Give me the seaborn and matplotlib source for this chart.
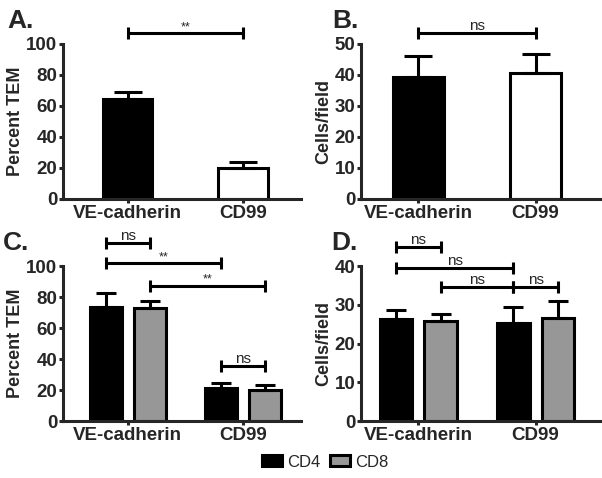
import pandas as pd
import seaborn as sns
import matplotlib.pyplot as plt
from matplotlib.patches import Patch
from matplotlib.container import BarContainer

targets = ["VE-cadherin", "CD99"]
subsets = ["CD4", "CD8"]

# A. percent TEM, all T cells
tem_mean = [64.5, 19.8]
tem_err = [4.2, 3.9]
# B. cells per field, all T cells
field_mean = [39.3, 40.5]
field_err = [6.8, 6.3]
# C. percent TEM by subset
tem_cd4 = [73.7, 21.5]
tem_cd4_err = [8.7, 3.2]
tem_cd8 = [73.1, 20.0]
tem_cd8_err = [4.3, 3.2]
# D. cells per field by subset
field_cd4 = [26.3, 25.2]
field_cd4_err = [2.3, 4.1]
field_cd8 = [25.8, 26.5]
field_cd8_err = [1.8, 4.5]

LW = 2.2
GRAY = "#979797"

sns.set_style("ticks")
plt.rcParams["font.family"] = ["Liberation Sans", "DejaVu Sans"]
plt.rcParams["font.weight"] = "bold"
plt.rcParams["axes.labelweight"] = "bold"


def style_axis(ax, ymax, step, ylabel):
    ax.set_ylim(0, ymax)
    ax.set_yticks(range(0, ymax + 1, step))
    ax.set_ylabel(ylabel, fontsize=13, labelpad=2)
    ax.set_xlabel("")
    for s in ["left", "bottom"]:
        ax.spines[s].set_linewidth(LW)
    sns.despine(ax=ax)
    ax.tick_params(width=LW, length=3, pad=1, labelsize=13.5)


def bars(ax):
    return [c for c in ax.containers if isinstance(c, BarContainer)]


def add_errors(ax, errs, capsize):
    for cont, err in zip(bars(ax), errs):
        xs = [p.get_x() + p.get_width() / 2 for p in cont.patches]
        ys = [p.get_height() for p in cont.patches]
        ax.errorbar(xs, ys, yerr=[[0] * len(err), err], fmt="none", ecolor="black",
                    elinewidth=LW, capthick=LW, capsize=capsize, zorder=1)


def centers(ax):
    return [[p.get_x() + p.get_width() / 2 for p in c.patches] for c in bars(ax)]


def bracket(ax, x1, x2, y, label, fs):
    ax.plot([x1, x2], [y, y], color="black", lw=LW, clip_on=False,
            marker="|", markersize=9, markeredgewidth=LW)
    ax.text((x1 + x2) / 2, y, label, ha="center", va="bottom",
            fontsize=fs, fontweight="normal")


fig = plt.figure(figsize=(6.02, 4.78), dpi=100)
axA = fig.add_axes([0.1047, 0.5837, 0.395, 0.3243])
axB = fig.add_axes([0.5997, 0.5837, 0.397, 0.3243])
axC = fig.add_axes([0.1047, 0.1192, 0.395, 0.3243])
axD = fig.add_axes([0.5997, 0.1192, 0.397, 0.3243])

# A
dfA = pd.DataFrame({"target": targets, "value": tem_mean})
sns.barplot(data=dfA, x="target", y="value", hue="target", palette=["black", "white"],
            width=0.43, edgecolor="black", linewidth=LW, errorbar=None, legend=False, ax=axA)
add_errors(axA, [[e] for e in tem_err], 10)
style_axis(axA, 100, 20, "Percent TEM")
axA.set_xlim(-0.56, 1.5)
bracket(axA, 0, 1, 107, "**", 9)

# B
dfB = pd.DataFrame({"target": targets, "value": field_mean})
sns.barplot(data=dfB, x="target", y="value", hue="target", palette=["black", "white"],
            width=0.43, edgecolor="black", linewidth=LW, errorbar=None, legend=False, ax=axB)
add_errors(axB, [[e] for e in field_err], 10)
style_axis(axB, 50, 10, "Cells/field")
axB.set_xlim(-0.49, 1.55)
bracket(axB, 0, 1, 53.5, "ns", 11)

# C
dfC = pd.DataFrame({"target": targets * 2, "subset": ["CD4"] * 2 + ["CD8"] * 2,
                    "value": tem_cd4 + tem_cd8})
sns.barplot(data=dfC, x="target", y="value", hue="subset", hue_order=subsets,
            palette=["black", GRAY], width=0.76, gap=0.27, edgecolor="black",
            linewidth=LW, errorbar=None, legend=False, ax=axC)
c4, c8 = centers(axC)
add_errors(axC, [tem_cd4_err, tem_cd8_err], 7)
style_axis(axC, 100, 20, "Percent TEM")
axC.set_xlim(-0.56, 1.5)
bracket(axC, c4[0], c8[0], 114.6, "ns", 11)
bracket(axC, c4[0], c4[1], 101.7, "**", 9)
bracket(axC, c8[0], c8[1], 87.3, "**", 9)
bracket(axC, c4[1], c8[1], 35.7, "ns", 11)

# D
dfD = pd.DataFrame({"target": targets * 2, "subset": ["CD4"] * 2 + ["CD8"] * 2,
                    "value": field_cd4 + field_cd8})
sns.barplot(data=dfD, x="target", y="value", hue="subset", hue_order=subsets,
            palette=["black", GRAY], width=0.76, gap=0.27, edgecolor="black",
            linewidth=LW, errorbar=None, legend=False, ax=axD)
d4, d8 = centers(axD)
add_errors(axD, [field_cd4_err, field_cd8_err], 7)
style_axis(axD, 40, 10, "Cells/field")
axD.set_xlim(-0.49, 1.55)
bracket(axD, d4[0], d8[0], 45.0, "ns", 11)
bracket(axD, d4[0], d4[1], 39.4, "ns", 11)
bracket(axD, d8[0], d4[1], 34.7, "ns", 11)
bracket(axD, d4[1], d8[1], 34.7, "ns", 11)

# panel letters
for x, y, s in [(0.012, 0.942, "A."), (0.552, 0.942, "B."),
                (0.005, 0.477, "C."), (0.55, 0.477, "D.")]:
    fig.text(x, y, s, fontsize=19, fontweight="bold")

handles = [Patch(facecolor="black", edgecolor="black", linewidth=LW),
           Patch(facecolor=GRAY, edgecolor="black", linewidth=LW)]
fig.legend(handles, subsets, loc="center", bbox_to_anchor=(0.54, 0.033), ncol=2,
           frameon=False, prop={"size": 12, "weight": "normal"},
           handlelength=1.2, handleheight=0.65, handletextpad=0.3, columnspacing=0.6)

fig.savefig("out.png", dpi=100)
